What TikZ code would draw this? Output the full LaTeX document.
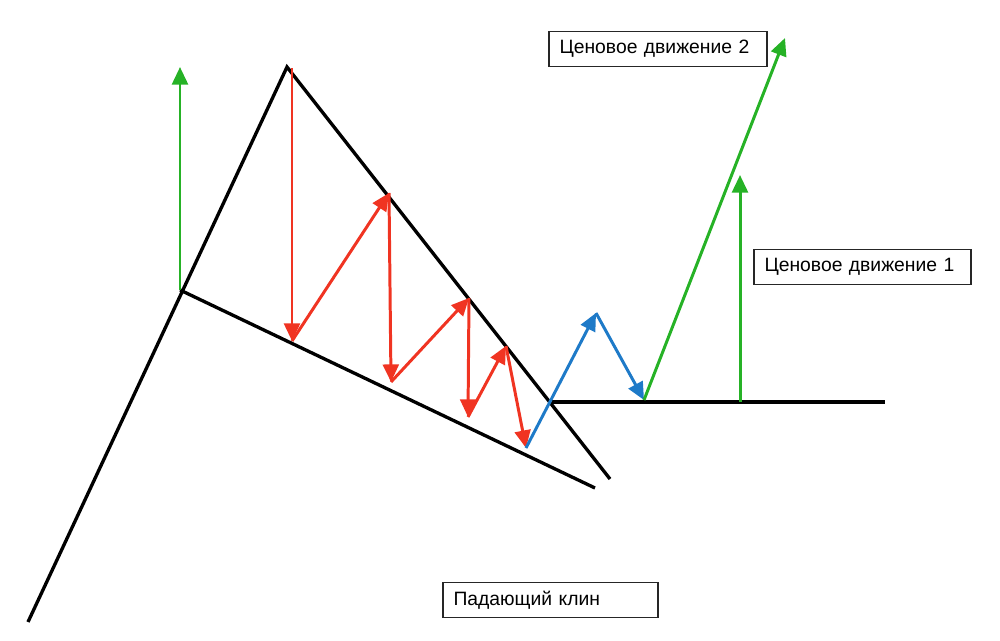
\documentclass[tikz,border=0pt]{standalone}
\usepackage{fontspec}
\setmainfont{Liberation Sans}
\usetikzlibrary{arrows.meta}
\definecolor{up}{RGB}{38,178,38}
\definecolor{down}{RGB}{240,52,34}
\definecolor{brk}{RGB}{30,122,200}
\tikzset{
  wedge/.style={line width=1.9pt,black},
  mv/.style={line width=1.7pt,-{Triangle[length=10pt,width=9pt]}},
  lbl/.style={draw=black!85,line width=1.1pt,inner xsep=6pt,minimum height=0.7cm,anchor=west,align=left,font=\fontsize{11}{13}\selectfont}
}
\begin{document}
\begin{tikzpicture}[x=0.02cm,y=-0.02cm]
\useasboundingbox (0,0) rectangle (1000,641);
\coordinate (base) at (28,622);
\coordinate (top) at (287,67);
\coordinate (flag) at (180,290);
\coordinate (tgt0) at (180,67);
\coordinate (r1) at (292,68);
\coordinate (s1) at (292,341);
\coordinate (r2) at (389,193);
\coordinate (s2) at (391,382);
\coordinate (r3) at (469,298);
\coordinate (s3) at (468,417);
\coordinate (r4) at (506,346);
\coordinate (s4) at (526,448);
\coordinate (upEnd) at (610,479);
\coordinate (loEnd) at (595,488);
\coordinate (brk) at (552,402);
\coordinate (pk) at (596,313);
\coordinate (rt) at (644,400);
\coordinate (hz) at (885,402);
\coordinate (tgt2) at (785,38);
\coordinate (m1) at (740,402);
\coordinate (tgt1) at (740,175);
\draw[wedge] (base) -- (top) -- (upEnd);
\draw[wedge] (flag) -- (loEnd);
\draw[wedge] (brk) -- (hz);
\draw[mv,up] (flag) -- (tgt0);
\draw[mv,down] (r1) -- (s1);
\draw[mv,down] (s1) -- (r2);
\draw[mv,down] (r2) -- (s2);
\draw[mv,down] (s2) -- (r3);
\draw[mv,down] (r3) -- (s3);
\draw[mv,down] (s3) -- (r4);
\draw[mv,down] (r4) -- (s4);
\draw[mv,brk] (s4) -- (pk);
\draw[mv,brk] (pk) -- (rt);
\draw[mv,up] (rt) -- (tgt2);
\draw[mv,up] (m1) -- (tgt1);
\node[lbl,text width=4.36cm-12pt] (mv2) at (548,49) {Ценовое движение 2};
\node[lbl,text width=4.34cm-12pt] (mv1) at (753,267) {Ценовое движение 1};
\node[lbl,text width=4.30cm-12pt] (wedgelbl) at (442,600) {Падающий клин};
\end{tikzpicture}
\end{document}
